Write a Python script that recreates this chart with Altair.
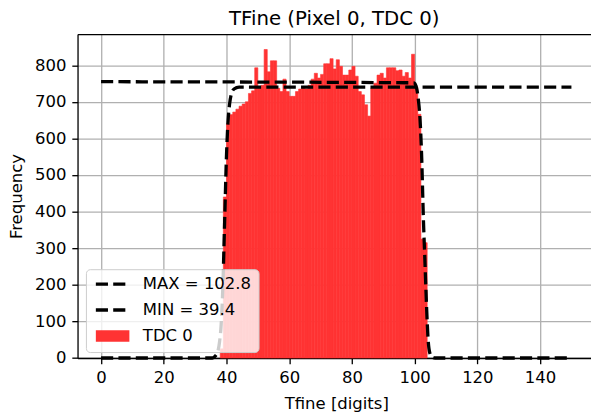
import altair as alt
import pandas as pd

# ---------------- data ----------------
bin_left = list(range(38, 104))          # histogram bins of width 1 (Tfine digits)
bin_width = 1
counts = [25, 440, 640, 665, 672, 680, 688, 694, 700, 723,
          730, 793, 740, 745, 843, 782, 812, 812, 737, 728,
          762, 728, 715, 715, 728, 735, 740, 735, 745, 762,
          778, 765, 775, 804, 804, 818, 790, 815, 797, 773,
          773, 787, 797, 770, 728, 719, 692, 661, 737, 751,
          773, 778, 765, 793, 793, 793, 785, 787, 770, 780,
          765, 830, 740, 666, 325, 315]

# fitted edge curves
max_x = [0, 99.8, 100.6, 101.2, 101.7, 102.2, 102.8, 103.3, 103.8, 104.3, 104.8, 105.5, 106.5, 150]
max_y = [755, 752, 738, 705, 655, 560, 378, 260, 140, 50, 15, 3, 0, 0]
min_x = [0, 35.5, 36.4, 37.2, 37.8, 38.3, 38.8, 39.4, 40.0, 40.5, 41.0, 41.6, 42.4, 44.0, 150]
min_y = [0, 0, 5, 17, 45, 92, 186, 370, 554, 648, 695, 723, 735, 740, 740]

series_max = "MAX = 102.8"
series_min = "MIN = 39.4"
series_hist = "TDC 0"

x_ticks = [0, 20, 40, 60, 80, 100, 120, 140]
y_ticks = [0, 100, 200, 300, 400, 500, 600, 700, 800]

# ---------------- tables ----------------
bars = pd.DataFrame({
    "left": bin_left,
    "right": [b + bin_width for b in bin_left],
    "count": counts,
    "series": series_hist,
})
curves = pd.concat([
    pd.DataFrame({"x": max_x, "y": max_y, "series": series_max}),
    pd.DataFrame({"x": min_x, "y": min_y, "series": series_min}),
], ignore_index=True)

FONT = "DejaVu Sans"
FS = 16.7
RED = "#ff3333"

x_scale = alt.Scale(domain=[-7.5, 157.5], range=[0, 524.5], nice=False, zero=False)
y_scale = alt.Scale(domain=[0, 885], nice=False, zero=False)

legend_geom = dict(
    orient="none", legendX=8.5, legendY=238.3, title=None,
    padding=6.7, rowPadding=8.3, symbolSize=100, symbolOffset=12,
    labelOffset=22.3, labelFont=FONT, labelFontSize=FS, labelLimit=0,
)

bar_layer = alt.Chart(bars).mark_rect(stroke=RED, strokeWidth=0.6).encode(
    x=alt.X("left:Q", scale=x_scale,
            axis=alt.Axis(values=x_ticks, title="Tfine [digits]", grid=True,
                          labelPadding=6.5, titlePadding=9, format="d")),
    x2="right:Q",
    y=alt.Y("count:Q", scale=y_scale,
            axis=alt.Axis(values=y_ticks, title="Frequency", grid=True,
                          labelPadding=6, titlePadding=9, format="d")),
    y2=alt.datum(0),
    fill=alt.Fill("series:N",
                  scale=alt.Scale(domain=["_a", "_b", series_hist],
                                  range=["rgba(0,0,0,0)", "rgba(0,0,0,0)", RED]),
                  legend=alt.Legend(symbolType="M-3.4,-1.17H3.4V1.17H-3.4Z",
                                    symbolStrokeWidth=0, labelExpr="' '",
                                    labelOpacity=0, zindex=2, **legend_geom)),
)

line_layer = alt.Chart(curves).mark_line(
    color="black", strokeWidth=3.33, interpolate="monotone"
).encode(
    x=alt.X("x:Q", scale=x_scale,
            axis=alt.Axis(orient="top", labels=False, ticks=False, grid=False,
                          title=None, domain=True)),
    y=alt.Y("y:Q", scale=y_scale),
    strokeDash=alt.StrokeDash(
        "series:N",
        scale=alt.Scale(domain=[series_max, series_min, series_hist],
                        range=[[12.3, 5.3], [12.3, 5.3], [0, 100]]),
        legend=alt.Legend(symbolType="M-3.4,0H3.4", symbolStrokeColor="black",
                          symbolStrokeWidth=3.33, labelColor="black",
                          fillColor="rgba(255,255,255,0.8)", strokeColor="#cccccc",
                          cornerRadius=4, zindex=1, **legend_geom)),
    order=alt.Order("x:Q"),
)

chart = alt.layer(bar_layer, line_layer).resolve_axis(x="independent").properties(
    width=520.5,
    height=328.3,
    title=alt.Title("TFine (Pixel 0, TDC 0)", font=FONT, fontSize=20,
                    fontWeight="normal", color="black", anchor="middle", offset=5.5),
    autosize=alt.AutoSizeParams(type="none"),
    padding={"left": 70.5, "top": 23.7, "right": 0, "bottom": 54},
).configure_view(
    stroke=None
).configure_axis(
    labelFont=FONT, titleFont=FONT, labelFontSize=FS, titleFontSize=FS,
    labelColor="black", titleColor="black", titleFontWeight="normal",
    tickColor="black", tickSize=5.8, tickWidth=1.33,
    domainColor="black", domainWidth=1.33,
    gridColor="#b0b0b0", gridWidth=1.33, zindex=1,
)

chart.save("out.html", embed_options={"renderer": "svg", "actions": False})
